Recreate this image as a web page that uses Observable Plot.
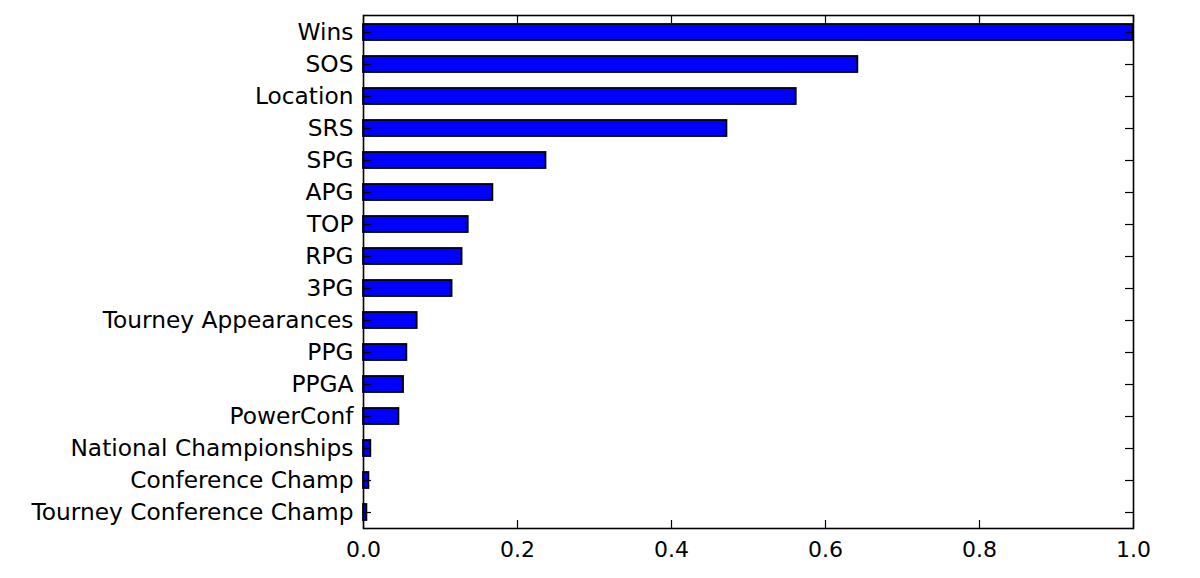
<!DOCTYPE html>
<html>
<head>
<meta charset="utf-8">
<script src="https://cdn.jsdelivr.net/npm/d3@7"></script>
<script src="https://cdn.jsdelivr.net/npm/@observablehq/plot@0.6"></script>
<style>
  html, body { margin: 0; padding: 0; background: #fff; }
  svg { display: block; }
</style>
</head>
<body>
<div id="chart"></div>
<script>
const features = ["Wins", "SOS", "Location", "SRS", "SPG", "APG", "TOP", "RPG", "3PG",
  "Tourney Appearances", "PPG", "PPGA", "PowerConf", "National Championships",
  "Conference Champ", "Tourney Conference Champ"];
const importance = [1.0, 0.642, 0.562, 0.472, 0.237, 0.168, 0.136, 0.128, 0.115,
  0.0697, 0.0563, 0.052, 0.046, 0.0095, 0.007, 0.0044];
const xTicks = [0, 0.2, 0.4, 0.6, 0.8, 1.0];

const data = features.map((f, i) => ({feature: f, value: importance[i]}));

const W = 1200, H = 578, mL = 363, mR = 67, mT = 15, mB = 50;
const innerH = H - mT - mB, innerW = W - mL - mR;
const tick = 8;

const chart = Plot.plot({
  width: W, height: H,
  marginLeft: mL, marginRight: mR, marginTop: mT, marginBottom: mB,
  style: {fontFamily: "DejaVu Sans", fontSize: "23px", color: "black", background: "white"},
  x: {domain: [0, 1]},
  y: {domain: features, paddingInner: 0.5, paddingOuter: 0.25},
  marks: [
    Plot.barX(data, {x: "value", y: "feature", fill: "#0000ff", stroke: "black", strokeWidth: 1.8}),
    // inward ticks
    Plot.ruleX(xTicks, {x: d => d, insetBottom: innerH - tick, stroke: "black", strokeWidth: 1.2}),
    Plot.ruleX(xTicks, {x: d => d, insetTop: innerH - tick, stroke: "black", strokeWidth: 1.2}),
    Plot.ruleY(features, {y: d => d, insetRight: innerW - tick, stroke: "black", strokeWidth: 1.2}),
    Plot.ruleY(features, {y: d => d, insetLeft: innerW - tick, stroke: "black", strokeWidth: 1.2}),
    Plot.frame({stroke: "black", strokeWidth: 1.6}),
    Plot.axisX(xTicks, {anchor: "bottom", tickSize: 0, tickPadding: 13, tickFormat: d3.format(".1f"), label: null, fontSize: 22}),
    Plot.axisY({anchor: "left", tickSize: 0, tickPadding: 10, label: null, fontSize: 23.3})
  ]
});
document.getElementById("chart").appendChild(chart);
</script>
</body>
</html>
